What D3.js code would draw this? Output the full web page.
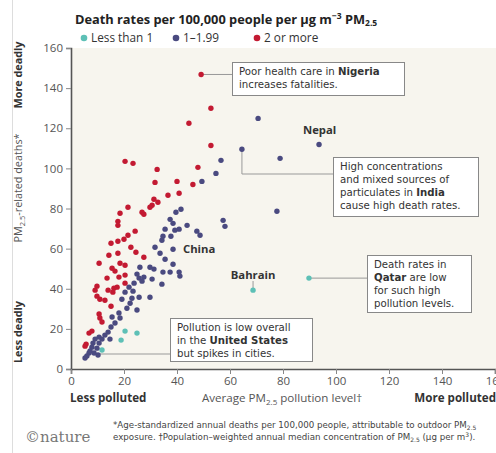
<!DOCTYPE html>
<html><head><meta charset="utf-8">
<script src="https://cdn.jsdelivr.net/npm/d3@7"></script>
<style>
body{margin:0;background:#fff;}
svg{display:block;font-family:"Open Sans",sans-serif;}
</style></head><body>
<svg id="c" width="496" height="453"></svg>
<script>
const categories = ["Less than 1", "1–1.99", "2 or more"];
const xTicks = [0,20,40,60,80,100,120,140,160];
const yTicks = [0,20,40,60,80,100,120,140,160];
// [PM2.5 level, deaths per 100,000]
const lowRate = [[68.7,39.3],[89.8,45.3],[20.4,18.9],[24.9,17.9],[18.9,14.4],[11.7,9.5]];
const midRate = [[70.6,124.9],[64.5,109.5],[93.6,111.9],[78.9,105.0],[56.6,104.0],[54.7,97.5],[49.4,93.5],[77.7,78.6],[57.4,74.1],[58.1,71.1],
[41.5,79.6],[39.6,78.1],[37.4,74.6],[38.5,72.6],[43.8,71.6],[40.8,69.7],[39.2,69.2],[35.5,69.7],[47.5,68.7],[48.7,66.7],
[34.7,66.2],[37.7,66.2],[34.3,64.2],[31.7,60.7],[38.5,59.7],[33.6,57.7],[35.5,54.7],[38.5,52.2],[26.0,50.7],[29.8,50.7],
[31.3,49.8],[34.7,48.3],[37.4,48.3],[40.8,48.3],[41.1,46.3],[27.5,45.8],[30.6,44.8],[25.7,45.3],[26.8,43.8],[34.3,42.3],
[25.7,35.8],[29.8,35.8],[24.9,47.3],[23.8,42.8],[21.9,40.8],[20.4,38.3],[23.4,38.8],[19.2,34.8],[23.0,35.3],[22.3,32.8],
[21.1,30.3],[24.9,29.4],[18.1,27.9],[15.5,25.9],[18.5,25.4],[16.6,22.9],[15.1,20.9],[14.0,18.4],[12.8,16.9],[10.6,15.9],
[9.1,14.9],[11.7,14.9],[14.7,14.9],[8.3,12.9],[10.6,12.9],[7.9,10.9],[9.8,10.4],[7.2,9.0],[6.8,8.0],[8.7,8.0],
[6.0,6.5],[5.3,5.5],[10.2,7.0]];
const highRate = [[49.1,146.8],[52.8,130.0],[44.5,122.5],[52.8,111.4],[47.9,100.5],[20.4,103.5],[23.4,102.5],[32.5,99.5],[31.7,93.0],[40.0,93.5],[46.0,92.0],
[40.8,87.6],[36.6,86.6],[31.3,84.6],[32.8,83.1],[30.6,81.6],[29.8,80.6],[26.8,78.1],[27.5,77.1],[21.5,80.6],[18.5,77.6],
[17.7,73.6],[17.7,71.6],[24.2,68.7],[21.5,66.7],[20.0,64.7],[17.7,63.7],[15.1,62.7],[22.6,60.7],[24.5,58.2],[17.7,57.7],
[14.3,56.7],[27.5,55.7],[10.6,52.7],[18.5,52.7],[20.4,51.7],[15.5,50.2],[16.6,48.8],[20.4,46.8],[18.1,45.8],[13.6,45.3],
[20.4,42.8],[9.8,41.3],[9.1,39.3],[14.0,39.3],[16.2,40.3],[17.4,40.8],[15.8,38.3],[9.8,36.3],[10.9,34.8],[12.8,34.3],
[15.1,31.3],[10.6,27.4],[10.9,25.4],[11.7,23.4],[7.9,18.9],[6.8,17.9],[5.7,12.4],[5.3,11.4]];
const colors = ["#5dc0b6","#4a4a80","#c31a32"];

const svg = d3.select("#c");
const x = d3.scaleLinear().domain([0,160]).range([71,495]);
const y = d3.scaleLinear().domain([0,160]).range([369,48]);
const compact = "'DejaVu Sans',sans-serif";

svg.append("line").attr("x1",12.5).attr("x2",12.5).attr("y1",0).attr("y2",453).attr("stroke","#ddd");
svg.append("rect").attr("x",x(0)).attr("y",y(160)).attr("width",496-x(0)).attr("height",y(0)-y(160)).attr("fill","#f7f5ee");

// title
const t = svg.append("text").attr("x",75).attr("y",24).attr("font-size",12.8).attr("font-weight","bold").attr("fill","#222");
t.append("tspan").text("Death rates per 100,000 people per µg m");
t.append("tspan").attr("dy",-5).attr("font-size",8.5).text("−3");
t.append("tspan").attr("dy",5).text(" PM");
t.append("tspan").attr("dy",2).attr("font-size",8.5).text("2.5");

// legend
const legX = [84,176,257];
categories.forEach((c,i)=>{
  svg.append("circle").attr("cx",legX[i]).attr("cy",38).attr("r",3.3).attr("fill",colors[i]);
  svg.append("text").attr("x",legX[i]+7).attr("y",42).attr("font-size",11.8).attr("fill","#333").text(c);
});

// axes
const yAxis = svg.append("g").attr("transform",`translate(${x(0)},0)`)
  .call(d3.axisLeft(y).tickValues(yTicks).tickSize(5).tickPadding(3));
const xAxis = svg.append("g").attr("transform",`translate(0,${y(0)})`)
  .call(d3.axisBottom(x).tickValues(xTicks).tickSize(5).tickPadding(3));
[yAxis,xAxis].forEach(a=>{
  a.select(".domain").attr("stroke","#555").attr("stroke-width",1.6);
  a.selectAll(".tick line").attr("stroke","#888");
  a.selectAll(".tick text").attr("font-size",11.5).attr("fill","#555").attr("font-family","'Open Sans',sans-serif");
});

// annotation lines
const ln = (pts)=>svg.append("path").attr("d",d3.line()(pts)).attr("fill","none").attr("stroke","#999").attr("stroke-width",1);
const nig = highRate[0], ind = midRate[1], qat = lowRate[1], bah = lowRate[0], us = lowRate[5];
ln([[x(nig[0]),y(nig[1])],[232,y(nig[1])]]);
ln([[x(ind[0]),y(ind[1])],[x(ind[0]),174],[333,174]]);
ln([[x(qat[0]),y(qat[1])],[367,y(qat[1])]]);
ln([[x(bah[0]),281],[x(bah[0]),y(bah[1])]]);
ln([[x(us[0])-4,354],[170,354]]);

// points
[lowRate, midRate, highRate].forEach((g,i)=>{
  svg.append("g").selectAll("circle").data(g).join("circle")
    .attr("cx",d=>x(d[0])).attr("cy",d=>y(d[1])).attr("r",2.7).attr("fill",colors[i]);
});

// country labels
const lab = (tx,ty,s,anchor)=>svg.append("text").attr("x",tx).attr("y",ty).attr("font-size",11.3).attr("font-weight","bold").attr("fill","#333").attr("text-anchor",anchor||"start").text(s);
lab(303,134,"Nepal");
lab(183,253,"China");
lab(x(bah[0]),279,"Bahrain","middle");

// boxes
function box(bx,by,bw,bh,lines){
  svg.append("rect").attr("x",bx+0.5).attr("y",by+0.5).attr("width",bw).attr("height",bh).attr("fill","#fff").attr("stroke","#888");
  lines.forEach((parts,i)=>{
    const tt = svg.append("text").attr("x",bx+7).attr("y",by+13+i*13).attr("font-size",10.2).attr("font-family",compact).attr("fill","#333");
    parts.forEach(p=>{ tt.append("tspan").attr("font-weight",p[1]?"bold":null).text(p[0]); });
  });
}
box(232,62,172,33,[[["Poor health care in "],["Nigeria",1]],[["increases fatalities."]]]);
box(333,157,145,59,[[["High concentrations"]],[["and mixed sources of"]],[["particulates in "],["India",1]],[["cause high death rates."]]]);
box(367,255,104,57,[[["Death rates in"]],[["Qatar",1],[" are low"]],[["for such high"]],[["pollution levels."]]]);
box(170,318,142,43,[[["Pollution is low overall"]],[["in the "],["United States",1]],[["but spikes in cities."]]]);

// y-axis titles
const yt = (cy,s,bold)=>svg.append("text").attr("transform",`translate(22,${cy}) rotate(-90)`).attr("text-anchor","middle").attr("font-size",10.8).attr("font-weight",bold?"bold":null).attr("fill","#333").text(s);
yt(75,"More deadly",1);
yt(332,"Less deadly",1);
const pm = svg.append("text").attr("transform","translate(22,188) rotate(-90)").attr("text-anchor","middle").attr("font-size",10.8).attr("fill","#555");
pm.append("tspan").text("PM");
pm.append("tspan").attr("dy",3).attr("font-size",7.5).text("2.5");
pm.append("tspan").attr("dy",-3).text("-related deaths*");

// x-axis titles
svg.append("text").attr("x",70).attr("y",402).attr("font-size",11.6).attr("font-weight","bold").attr("fill","#333").text("Less polluted");
svg.append("text").attr("x",496).attr("y",402).attr("font-size",11.6).attr("font-weight","bold").attr("fill","#333").attr("text-anchor","end").text("More polluted");
const xt = svg.append("text").attr("x",282).attr("y",402).attr("font-size",11.6).attr("fill","#555").attr("text-anchor","middle");
xt.append("tspan").text("Average PM");
xt.append("tspan").attr("dy",3).attr("font-size",8).text("2.5");
xt.append("tspan").attr("dy",-3).text(" pollution level†");

// footer
svg.append("text").attr("x",25).attr("y",442).attr("font-size",15).attr("font-family","'DejaVu Serif',serif").attr("fill","#777").text("©nature");
const f1 = svg.append("text").attr("x",113).attr("y",428).attr("font-size",8.7).attr("font-family",compact).attr("fill","#444");
f1.append("tspan").text("*Age-standardized annual deaths per 100,000 people, attributable to outdoor PM");
f1.append("tspan").attr("dy",1.5).attr("font-size",6).text("2.5");
const f2 = svg.append("text").attr("x",113).attr("y",440).attr("font-size",8.7).attr("font-family",compact).attr("fill","#444");
f2.append("tspan").text("exposure. †Population–weighted annual median concentration of PM");
f2.append("tspan").attr("dy",1.5).attr("font-size",6).text("2.5");
f2.append("tspan").attr("dy",-1.5).text(" (µg per m");
f2.append("tspan").attr("dy",-3).attr("font-size",6).text("3");
f2.append("tspan").attr("dy",3).text(").");
</script></body></html>
